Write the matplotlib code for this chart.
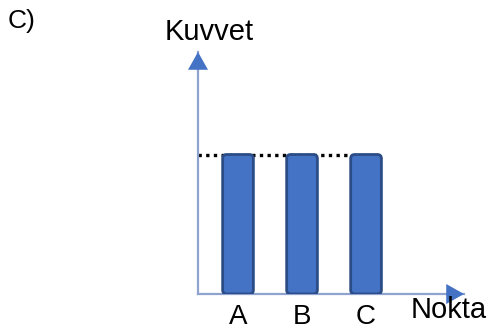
import matplotlib
matplotlib.use("Agg")
import matplotlib.pyplot as plt
from matplotlib.patches import FancyBboxPatch

# data
categories = ["A", "B", "C"]
values = [1.0, 1.0, 1.0]
y_label = "Kuvvet"
x_label = "Nokta"
panel_label = "C)"

bar_fill = "#4472C4"
bar_edge = "#2B4C86"
axis_col = "#8FA3CF"
head_col = "#4472C4"

plt.rcParams["font.family"] = ["Liberation Sans", "DejaVu Sans"]

fig = plt.figure(figsize=(4.88, 3.33), dpi=100)
ax = fig.add_axes([198 / 488, 39 / 333, 266 / 488, 242 / 333])

x = list(range(len(categories)))
bars = ax.bar(x, values, width=0.48, color=bar_fill)
ax.set_xlim(-0.625, 3.53)
ax.set_ylim(0, 1.735)

# swap the plain bars for rounded ones
px_x = 64.0
px_y = 242 / 1.735
for b in bars:
    bx, by = b.get_x(), b.get_y()
    w, h = b.get_width(), b.get_height()
    b.set_visible(False)
    r = 4.0 / px_x
    ax.add_patch(FancyBboxPatch((bx + r, by + r * px_x / px_y), w - 2 * r, h - 2 * r * px_x / px_y,
                                boxstyle="round,pad=%f" % r,
                                mutation_aspect=px_x / px_y,
                                facecolor=bar_fill, edgecolor=bar_edge, lw=2.0, zorder=3))

# dotted line at bar height, from the axis to the last bar
ax.plot([-0.625, x[-1] - 0.24], [values[0], values[0]], color="black",
        linestyle=(0, (1, 1.3)), lw=2.4, zorder=2, solid_capstyle="butt")

# axes as arrows
for s in ["top", "right"]:
    ax.spines[s].set_visible(False)
for s in ["left", "bottom"]:
    ax.spines[s].set_color(axis_col)
    ax.spines[s].set_linewidth(1.6)
ax.set_xticks([])
ax.set_yticks([])

arrow = dict(arrowstyle="-|>,head_length=0.8,head_width=0.45", color=head_col,
             lw=0, mutation_scale=16, shrinkA=0, shrinkB=0)
ax.annotate("", xy=(1, 0), xytext=(0.93, 0), xycoords="axes fraction",
            arrowprops=arrow, annotation_clip=False)
ax.annotate("", xy=(0, 1), xytext=(0, 0.93), xycoords="axes fraction",
            arrowprops=arrow, annotation_clip=False)

for xi, lab in zip(x, categories):
    ax.annotate(lab, xy=(xi, 0), xytext=(0, -7), textcoords="offset points",
                ha="center", va="top", fontsize=20, annotation_clip=False)

fig.text(449 / 488, 1 - 310 / 333, x_label, ha="center", va="center", fontsize=21)
fig.text(209 / 488, 1 - 40 / 333, y_label, ha="center", va="baseline", fontsize=21)
fig.text(8 / 488, 1 - 28 / 333, panel_label, ha="left", va="baseline", fontsize=19)

fig.savefig("out.png", dpi=100)
